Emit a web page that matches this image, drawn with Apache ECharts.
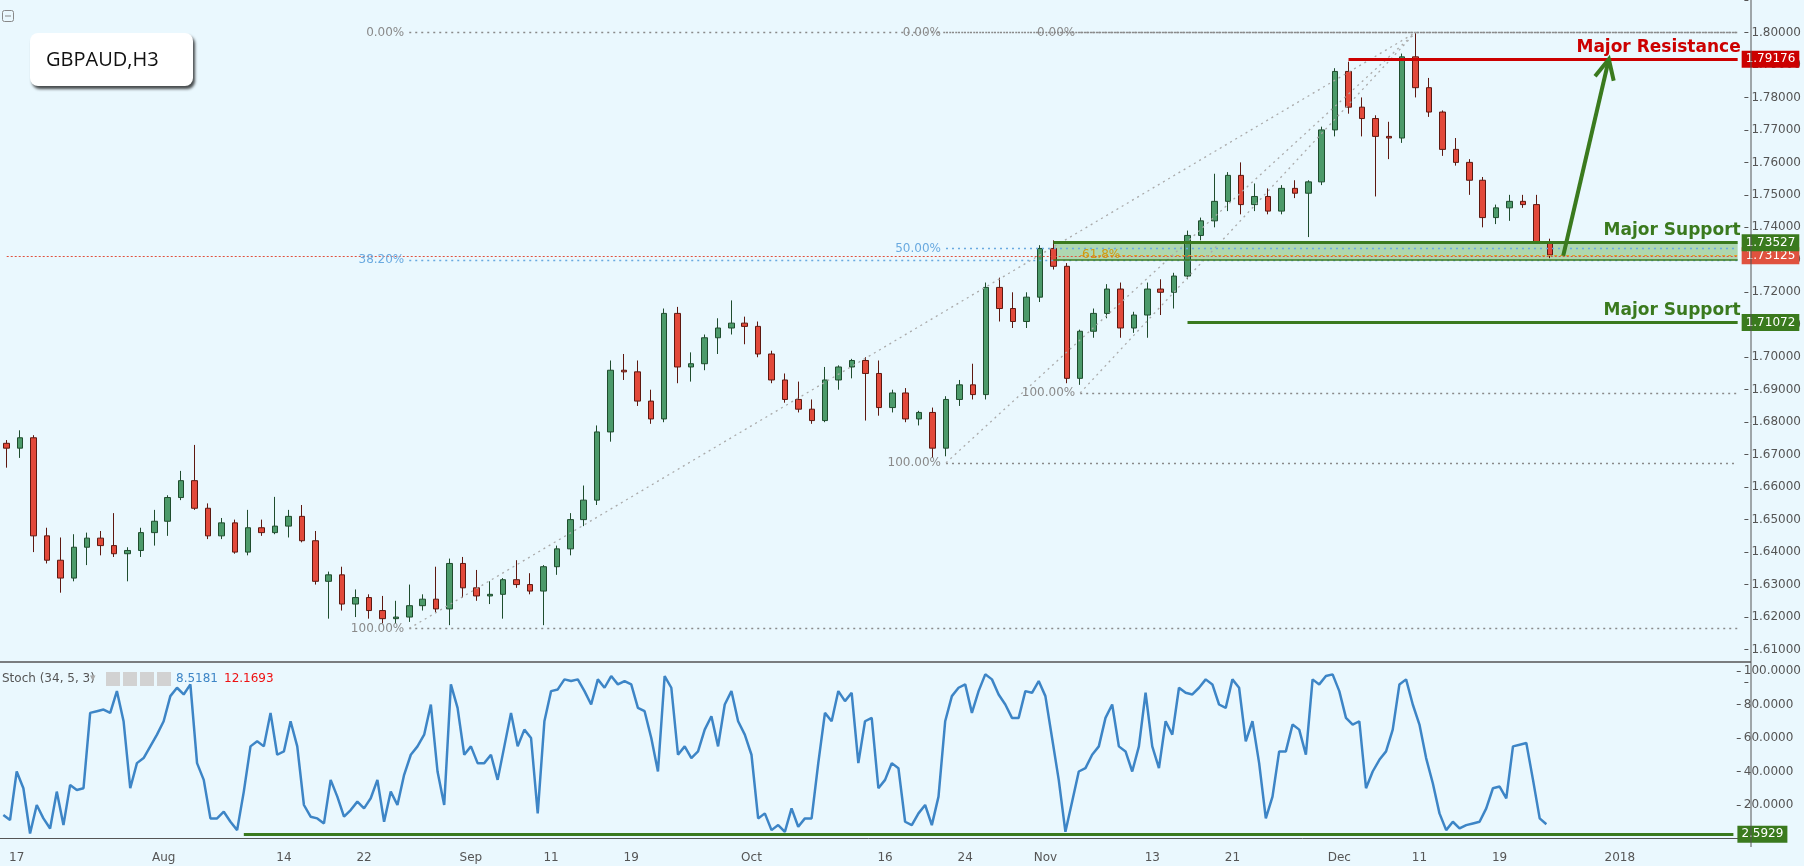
<!DOCTYPE html>
<html><head><meta charset="utf-8">
<script src="https://cdn.jsdelivr.net/npm/echarts@6/dist/echarts.min.js"></script>
<style>html,body{margin:0;padding:0;background:#eaf8fe;}#c{width:1804px;height:866px;}</style>
</head><body><div id="c"></div>
<script>
// ---- data ----
const startDate = '2017-07-14';
const tradingDays = 130;
const axisLabels = {'2017-07-17':'17','2017-08-01':'Aug','2017-08-14':'14','2017-08-22':'22','2017-09-01':'Sep','2017-09-11':'11','2017-09-19':'19','2017-10-02':'Oct','2017-10-16':'16','2017-10-24':'24','2017-11-01':'Nov','2017-11-13':'13','2017-11-21':'21','2017-12-01':'Dec','2017-12-11':'11','2017-12-19':'19','2018-01-01':'2018'};
// [open, close, low, high] per trading day
const candles = [
[1.6735,1.6720,1.6660,1.6745],[1.6720,1.6752,1.6690,1.6775],[1.6752,1.6450,1.6400,1.6760],[1.6450,1.6375,1.6365,1.6475],[1.6375,1.6320,1.6275,1.6445],[1.6320,1.6415,1.6310,1.6455],
[1.6415,1.6443,1.6360,1.6460],[1.6443,1.6420,1.6390,1.6465],[1.6420,1.6395,1.6385,1.6520],[1.6395,1.6405,1.6310,1.6415],[1.6405,1.6460,1.6385,1.6475],
[1.6460,1.6495,1.6420,1.6530],[1.6495,1.6568,1.6450,1.6575],[1.6568,1.6620,1.6560,1.6650],[1.6620,1.6535,1.6530,1.6730],[1.6535,1.6450,1.6440,1.6550],
[1.6450,1.6490,1.6440,1.6505],[1.6490,1.6400,1.6395,1.6500],[1.6400,1.6475,1.6390,1.6530],[1.6475,1.6460,1.6450,1.6500],[1.6460,1.6480,1.6455,1.6570],
[1.6480,1.6510,1.6445,1.6530],[1.6510,1.6435,1.6430,1.6545],[1.6435,1.6310,1.6300,1.6465],[1.6310,1.6330,1.6195,1.6340],[1.6330,1.6240,1.6220,1.6355],
[1.6240,1.6260,1.6200,1.6285],[1.6260,1.6220,1.6195,1.6270],[1.6220,1.6195,1.6180,1.6265],[1.6195,1.6200,1.6180,1.6250],[1.6200,1.6235,1.6185,1.6300],
[1.6235,1.6255,1.6220,1.6270],[1.6255,1.6225,1.6215,1.6355],[1.6225,1.6365,1.6175,1.6380],[1.6365,1.6290,1.6260,1.6385],[1.6290,1.6265,1.6250,1.6345],
[1.6265,1.6270,1.6240,1.6310],[1.6270,1.6315,1.6195,1.6320],[1.6315,1.6300,1.6290,1.6375],[1.6300,1.6280,1.6270,1.6335],[1.6280,1.6355,1.6175,1.6360],
[1.6355,1.6410,1.6330,1.6420],[1.6410,1.6500,1.6390,1.6520],[1.6500,1.6560,1.6480,1.6605],[1.6560,1.6770,1.6545,1.6790],[1.6770,1.6960,1.6740,1.6990],
[1.6960,1.6955,1.6930,1.7010],[1.6955,1.6865,1.6850,1.6990],[1.6865,1.6810,1.6795,1.6900],[1.6810,1.7135,1.6800,1.7150],[1.7135,1.6970,1.6920,1.7155],
[1.6970,1.6980,1.6925,1.7015],[1.6980,1.7060,1.6960,1.7070],[1.7060,1.7090,1.7010,1.7120],[1.7090,1.7105,1.7070,1.7175],[1.7105,1.7095,1.7040,1.7125],
[1.7095,1.7010,1.7000,1.7110],[1.7010,1.6930,1.6920,1.7020],[1.6930,1.6870,1.6860,1.6950],[1.6870,1.6840,1.6830,1.6925],[1.6840,1.6805,1.6795,1.6870],
[1.6805,1.6930,1.6800,1.6970],[1.6930,1.6970,1.6900,1.6975],[1.6970,1.6990,1.6935,1.6995],[1.6990,1.6950,1.6805,1.7000],[1.6950,1.6845,1.6820,1.6990],
[1.6845,1.6890,1.6830,1.6900],[1.6890,1.6810,1.6800,1.6905],[1.6810,1.6830,1.6790,1.6835],[1.6830,1.6720,1.6690,1.6845],[1.6720,1.6870,1.6695,1.6880],
[1.6870,1.6915,1.6850,1.6930],[1.6915,1.6885,1.6870,1.6980],[1.6885,1.7215,1.6870,1.7230],[1.7215,1.7150,1.7110,1.7245],[1.7150,1.7110,1.7090,1.7200],
[1.7110,1.7185,1.7090,1.7200],[1.7185,1.7335,1.7170,1.7345],[1.7335,1.7280,1.7270,1.7360],[1.7280,1.6935,1.6920,1.7290],[1.6935,1.7080,1.6915,1.7085],
[1.7080,1.7135,1.7060,1.7150],[1.7135,1.7210,1.7120,1.7225],[1.7210,1.7090,1.7060,1.7230],[1.7090,1.7130,1.7075,1.7140],[1.7130,1.7210,1.7060,1.7230],
[1.7210,1.7200,1.7130,1.7240],[1.7200,1.7250,1.7150,1.7260],[1.7250,1.7375,1.7240,1.7390],[1.7375,1.7420,1.7360,1.7430],[1.7420,1.7480,1.7400,1.7565],
[1.7480,1.7560,1.7450,1.7570],[1.7560,1.7470,1.7440,1.7600],[1.7470,1.7495,1.7450,1.7535],[1.7495,1.7450,1.7440,1.7520],[1.7450,1.7520,1.7440,1.7530],
[1.7520,1.7505,1.7490,1.7545],[1.7505,1.7540,1.7370,1.7545],[1.7540,1.7700,1.7530,1.7710],[1.7700,1.7880,1.7680,1.7890],[1.7880,1.7770,1.7750,1.7910],
[1.7770,1.7735,1.7680,1.7800],[1.7735,1.7680,1.7495,1.7745],[1.7680,1.7675,1.7610,1.7725],[1.7675,1.7925,1.7660,1.7935],[1.7925,1.7830,1.7800,1.8000],
[1.7830,1.7755,1.7740,1.7860],[1.7755,1.7640,1.7620,1.7760],[1.7640,1.7600,1.7590,1.7675],[1.7600,1.7545,1.7500,1.7610],[1.7545,1.7430,1.7400,1.7555],
[1.7430,1.7460,1.7410,1.7470],[1.7460,1.7480,1.7420,1.7500],[1.7480,1.7470,1.7460,1.7500],[1.7470,1.7355,1.7350,1.7500],[1.7355,1.7315,1.7305,1.7365]
];
// stochastic %K, two readings per trading day
const stochK = [
14,11, 40,30, 3,20, 12,6, 28,8, 32,29,
30,75, 76,77, 75,88, 70,30, 45,48,
55,62, 70,85, 90,86, 92,45, 35,12,
12,16, 10,5, 28,55, 58,55, 75,50,
52,70, 55,20, 13,12, 9,35, 25,13,
17,22, 18,24, 35,10, 28,20, 38,50,
55,62, 80,40, 20,92, 78,50, 55,45,
45,50, 35,55, 75,55, 65,60, 15,70,
88,89, 95,94, 95,88, 80,95, 90,97,
92,94, 92,78, 76,60, 40,97, 90,50,
55,48, 52,65, 73,55, 80,88, 70,62,
50,12, 15,5, 8,4, 18,7, 12,12,
45,75, 70,88, 82,87, 45,70, 72,30,
35,45, 42,10, 8,15, 20,8, 25,70,
85,90, 92,75, 88,98, 95,86, 80,72,
72,88, 87,94, 85,60, 35,4, 22,40,
42,50, 55,72, 80,55, 52,40, 55,87,
55,42, 70,62, 90,87, 86,90, 95,92,
80,78, 95,90, 58,70, 45,12, 25,52,
52,68, 65,50, 95,92, 97,98, 88,72,
68,70, 30,40, 47,52, 65,92, 95,80,
68,48, 33,15, 5,10, 6,8, 9,10,
18,30, 31,24, 55,56, 57,35, 12,8.5181
];
const priceTicks = {min:1.60, max:1.81, step:0.01};
const stochTicks = {min:0, max:100, step:20};
const resistance = 1.79176, support1 = 1.73527, zoneLow = 1.7300, support2 = 1.71072, lastPrice = 1.73125, stochLevel = 2.5929;
const fibTop = 1.8000, fib100 = [1.6165, 1.6675, 1.6890], fib382 = 1.7300, fib50 = 1.7335, fib618 = 1.7315;

// ---- categories ----
const days = [];
{ let d = new Date(startDate + 'T12:00:00Z');
  while (days.length < tradingDays) { const w = d.getUTCDay(); if (w !== 0 && w !== 6) days.push(d.toISOString().slice(0,10)); d = new Date(d.getTime() + 86400000); } }
const halfDays = []; days.forEach(d => { halfDays.push(d); halfDays.push(d + ' '); });
const N = days.length - 1;

const FONT = 'DejaVu Sans';
const gray = '#8a8a8a';
const dotted = (c) => ({color:c, type:[2,4], width:1.3});
const solid = (c,w) => ({color:c, type:'solid', width:w});
function tag(bg, v, digits){ return {show:true, position:'end', distance:4, formatter:v.toFixed(digits), backgroundColor:bg, color:'#fff', padding:[3,4,2,4], fontSize:12, fontFamily:FONT}; }
const fibLbl = (t,c) => ({show:true, position:'start', formatter:t, color:c, fontSize:12, fontFamily:FONT});
const bigLbl = (t,c) => ({show:true, position:'left', offset:[8,-12], formatter:t, color:c, fontWeight:'bold', fontSize:17, fontFamily:FONT});

const chart = echarts.init(document.getElementById('c'));
const o = {
  backgroundColor:'#eaf8fe',
  animation:false,
  grid:[{left:0, right:53, top:30-(priceTicks.max-fibTop)*3260, height:(priceTicks.max-priceTicks.min)*3260},
        {left:0, right:53, top:671, height:167.5}],
  xAxis:[
    {type:'category', gridIndex:0, data:days, boundaryGap:true, show:false},
    {type:'category', gridIndex:1, data:halfDays, boundaryGap:true, offset:8.5,
     axisLine:{lineStyle:{color:'#555', width:1}},
     axisTick:{interval:(i,v)=>i%2===0 && !!axisLabels[v], length:4, lineStyle:{color:'#555'}},
     axisLabel:{interval:(i,v)=>i%2===0 && !!axisLabels[v], formatter:v=>axisLabels[v]||'', color:'#555', fontSize:12, fontFamily:FONT, margin:5}}
  ],
  yAxis:[
    {type:'value', gridIndex:0, position:'right', min:priceTicks.min, max:priceTicks.max, interval:priceTicks.step, splitLine:{show:false},
     axisLine:{show:false}, axisTick:{show:true, length:4, lineStyle:{color:'#555'}},
     axisLabel:{color:'#555', fontSize:12, fontFamily:FONT, margin:7, formatter:v=>(v<1.605||v>1.805)?'':v.toFixed(5)}},
    {type:'value', gridIndex:1, position:'right', min:stochTicks.min, max:stochTicks.max, interval:stochTicks.step, splitLine:{show:false},
     axisLine:{show:false}, axisTick:{show:true, length:4, lineStyle:{color:'#555'}},
     axisLabel:{color:'#555', fontSize:12, fontFamily:FONT, margin:7, formatter:v=>v===0?'':v.toFixed(4)}}
  ],
  series:[
    {type:'candlestick', xAxisIndex:0, yAxisIndex:0, data:candles, barMaxWidth:6,
     itemStyle:{color:'#4c9a6a', color0:'#e2493a', borderColor:'#1f4d2e', borderColor0:'#5e1810', borderWidth:1},
     markArea:{silent:true, itemStyle:{color:'rgba(90,170,70,0.42)'}, data:[[{coord:[78, zoneLow]},{coord:[N, support1]}]]},
     markLine:{silent:true, symbol:['none','none'], data:[
       [{coord:[0,lastPrice], lineStyle:{color:'#e0523f', type:[2,2], width:1}, label:tag('#e0523f', lastPrice, 5)},{coord:[N,lastPrice]}],
       [{coord:[30,fib382], lineStyle:dotted('#6aaae0'), label:fibLbl('38.20%','#6aaae0')},{coord:[N,fib382]}],
       [{coord:[70,fib50], lineStyle:dotted('#6aaae0'), label:fibLbl('50.00%','#6aaae0')},{coord:[N,fib50]}],
       [{coord:[80,fib618], lineStyle:{color:'#e0a020', type:[3,3], width:1}, label:{show:true, position:'start', distance:-40, formatter:'61.8%', color:'#d09a10', fontSize:12, fontFamily:FONT}},{coord:[N,fib618]}],
       [{coord:[30,fibTop], lineStyle:dotted(gray), label:fibLbl('0.00%',gray)},{coord:[N,fibTop]}],
       [{coord:[70,fibTop], lineStyle:dotted(gray), label:fibLbl('0.00%',gray)},{coord:[N,fibTop]}],
       [{coord:[80,fibTop], lineStyle:dotted(gray), label:fibLbl('0.00%',gray)},{coord:[N,fibTop]}],
       [{coord:[30,fib100[0]], lineStyle:dotted(gray), label:fibLbl('100.00%',gray)},{coord:[N,fib100[0]]}],
       [{coord:[70,fib100[1]], lineStyle:dotted(gray), label:fibLbl('100.00%',gray)},{coord:[N,fib100[1]]}],
       [{coord:[80,fib100[2]], lineStyle:dotted(gray), label:fibLbl('100.00%',gray)},{coord:[N,fib100[2]]}],
       [{coord:[30,fib100[0]], lineStyle:dotted('#aaa'), label:{show:false}},{coord:[105,fibTop]}],
       [{coord:[70,fib100[1]], lineStyle:dotted('#aaa'), label:{show:false}},{coord:[105,fibTop]}],
       [{coord:[80,fib100[2]], lineStyle:dotted('#aaa'), label:{show:false}},{coord:[105,fibTop]}],
       [{coord:[78,zoneLow], lineStyle:solid('#3a7a1e',1.5), label:{show:false}},{coord:[N,zoneLow]}],
       [{coord:[100,resistance], lineStyle:solid('#cc0000',3), label:tag('#cc0000', resistance, 5)},{coord:[N,resistance]}],
       [{coord:[78,support1], lineStyle:solid('#3a7a1e',3), label:tag('#3a7a1e', support1, 5)},{coord:[N,support1]}],
       [{coord:[88,support2], lineStyle:solid('#3a7a1e',3), label:tag('#3a7a1e', support2, 5)},{coord:[N,support2]}]
     ]},
     markPoint:{silent:true, symbol:'circle', symbolSize:0, data:[
       {coord:[N,resistance], label:bigLbl('Major Resistance','#cc0000')},
       {coord:[N,support1], label:bigLbl('Major Support','#3a7a1e')},
       {coord:[N,support2], label:bigLbl('Major Support','#3a7a1e')}
     ]}
    },
    {type:'line', xAxisIndex:1, yAxisIndex:1, data:stochK, showSymbol:false, lineStyle:{color:'#3d85c6', width:2.5},
     markLine:{silent:true, symbol:['none','none'], data:[
       [{coord:[36,stochLevel], lineStyle:solid('#3a7a1e',3), label:tag('#3a7a1e', stochLevel, 4)},{coord:[halfDays.length-1,stochLevel]}]
     ]}}
  ],
  graphic:[
    {type:'line', shape:{x1:0,y1:662,x2:1751,y2:662}, style:{stroke:'#555', lineWidth:1.5}, z:10},
    {type:'line', shape:{x1:1751,y1:0,x2:1751,y2:847}, style:{stroke:'#555', lineWidth:1}, z:10},
    {type:'rect', shape:{x:2.5,y:10.5,width:11,height:11,r:2}, style:{fill:'none', stroke:'#888', lineWidth:1}},
    {type:'line', shape:{x1:5,y1:16,x2:11,y2:16}, style:{stroke:'#888', lineWidth:1}},
    {type:'rect', shape:{x:30,y:33,width:163,height:53,r:8}, style:{fill:'#fff', shadowBlur:3, shadowOffsetX:2, shadowOffsetY:3, shadowColor:'rgba(0,0,0,0.7)'}, z:20},
    {type:'text', x:46, y:60, style:{text:'GBPAUD,H3', fill:'#111', fontSize:20, fontFamily:'Open Sans', textVerticalAlign:'middle'}, z:21},
    {type:'text', x:2, y:673, style:{text:'Stoch (34, 5, 3)', fill:'#555', fontSize:12, fontFamily:FONT}, z:20},
    {type:'text', x:90, y:673, style:{text:'▾', fill:'#aaa', fontSize:11, fontFamily:FONT}, z:20},
    {type:'rect', shape:{x:106,y:672,width:14,height:14}, style:{fill:'#d2d2d2'}, z:20},
    {type:'rect', shape:{x:123,y:672,width:14,height:14}, style:{fill:'#d2d2d2'}, z:20},
    {type:'rect', shape:{x:140,y:672,width:14,height:14}, style:{fill:'#d2d2d2'}, z:20},
    {type:'rect', shape:{x:157,y:672,width:14,height:14}, style:{fill:'#d2d2d2'}, z:20},
    {type:'text', x:176, y:673, style:{text:'8.5181', fill:'#3d85c6', fontSize:12, fontFamily:FONT}, z:20},
    {type:'text', x:224, y:673, style:{text:'12.1693', fill:'#ee1111', fontSize:12, fontFamily:FONT}, z:20}
  ]
};
chart.setOption(o);
// projection arrow from the support zone to resistance
const a0 = chart.convertToPixel({gridIndex:0}, [116, lastPrice]);
const a1 = chart.convertToPixel({gridIndex:0}, [119, resistance]);
const a2 = chart.convertToPixel({gridIndex:0}, [120, resistance]);
const tip = [a1[0] + (a2[0]-a1[0])*0.4, a1[1]];
const ang = Math.atan2(tip[1]-a0[1], tip[0]-a0[0]);
const L = 22, sp = 0.45;
const h1 = [tip[0]-L*Math.cos(ang-sp), tip[1]-L*Math.sin(ang-sp)];
const h2 = [tip[0]-L*Math.cos(ang+sp), tip[1]-L*Math.sin(ang+sp)];
o.graphic.push({type:'polyline', shape:{points:[a0, tip]}, style:{stroke:'#3a7a1e', lineWidth:4, fill:'none'}, z:30});
o.graphic.push({type:'polyline', shape:{points:[h1, tip, h2]}, style:{stroke:'#3a7a1e', lineWidth:4, fill:'none'}, z:30});
chart.setOption({graphic:o.graphic});
</script></body></html>
